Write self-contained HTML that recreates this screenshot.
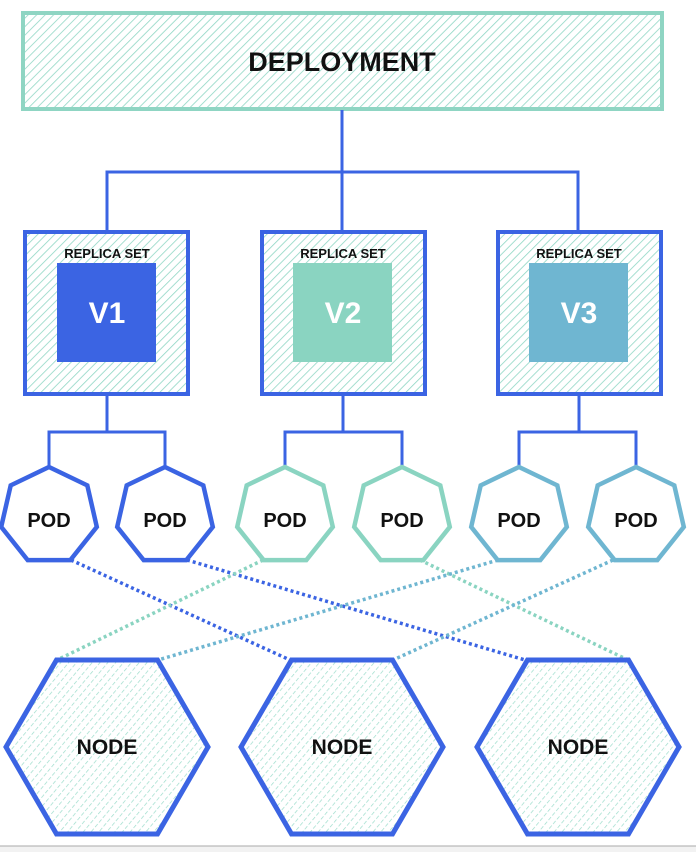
<!DOCTYPE html>
<html><head><meta charset="utf-8"><style>
html,body{margin:0;padding:0;background:#fff;}
svg{display:block;font-family:"Liberation Sans",sans-serif;}
</style></head><body>
<svg width="696" height="852" viewBox="0 0 696 852" xmlns="http://www.w3.org/2000/svg">
<defs>
<pattern id="h" width="6" height="6" patternUnits="userSpaceOnUse" patternTransform="rotate(45)">
<line x1="0" y1="0" x2="0" y2="6" stroke="#8fd6c4" stroke-width="1.6"/>
</pattern>
<pattern id="hd" width="6" height="6" patternUnits="userSpaceOnUse" patternTransform="rotate(40)">
<line x1="0" y1="0" x2="0" y2="6" stroke="#9bdccb" stroke-width="1.4" stroke-dasharray="3 2"/>
</pattern>
<polygon id="hep" points="0,-49 38.3,-30.6 47.8,10.9 21.3,44.1 -21.3,44.1 -47.8,10.9 -38.3,-30.6" fill="#fff" stroke-width="4.5" stroke-linejoin="miter"/>
<polygon id="hex" points="-50.5,-87 50.5,-87 101,0 50.5,87 -50.5,87 -101,0" fill="url(#hd)" stroke="#3b64e3" stroke-width="5"/>
</defs>
<rect x="0" y="846" width="696" height="6" fill="#f2f2f2"/>
<line x1="0" y1="846" x2="696" y2="846" stroke="#aaa" stroke-width="1"/>

<rect x="23" y="13" width="639" height="96" fill="url(#h)" stroke="#8fd5c3" stroke-width="4"/>
<text x="342" y="71" text-anchor="middle" font-size="27" font-weight="bold" fill="#111">DEPLOYMENT</text>

<g stroke="#3b64e3" stroke-width="3" fill="none">
<path d="M342 110V172M107 231V172H578V231M342 172V231"/>
<path d="M107 395V432M49 467V432H165V467"/>
<path d="M343 395V432M285 467V432H402V467"/>
<path d="M579 395V432M519 467V432H636V467"/>
</g>

<g stroke="#3b64e3" stroke-width="4">
<rect x="25" y="232" width="163" height="162" fill="url(#h)"/>
<rect x="262" y="232" width="163" height="162" fill="url(#h)"/>
<rect x="498" y="232" width="163" height="162" fill="url(#h)"/>
</g>
<rect x="57" y="263" width="99" height="99" fill="#3b64e3"/>
<rect x="293" y="263" width="99" height="99" fill="#8ad4c1"/>
<rect x="529" y="263" width="99" height="99" fill="#6fb6d1"/>
<g font-size="13" fill="#111" text-anchor="middle" font-weight="bold">
<text x="107" y="258">REPLICA SET</text>
<text x="343" y="258">REPLICA SET</text>
<text x="579" y="258">REPLICA SET</text>
</g>
<g font-size="30" font-weight="bold" fill="#fff" text-anchor="middle">
<text x="107" y="323">V1</text>
<text x="343" y="323">V2</text>
<text x="579" y="323">V3</text>
</g>

<g stroke-width="3.5" stroke-dasharray="3 3" fill="none">
<line x1="71" y1="560" x2="290" y2="660" stroke="#3b64e3"/>
<line x1="187" y1="560" x2="525" y2="660" stroke="#3b64e3"/>
<line x1="263" y1="560" x2="57" y2="660" stroke="#8ad4c1"/>
<line x1="420" y1="560" x2="628" y2="660" stroke="#8ad4c1"/>
<line x1="498" y1="560" x2="158" y2="660" stroke="#6fb6d1"/>
<line x1="613" y1="560" x2="393" y2="660" stroke="#6fb6d1"/>
</g>

<use href="#hep" x="49" y="516" stroke="#3b64e3"/>
<use href="#hep" x="165" y="516" stroke="#3b64e3"/>
<use href="#hep" x="285" y="516" stroke="#8ad4c1"/>
<use href="#hep" x="402" y="516" stroke="#8ad4c1"/>
<use href="#hep" x="519" y="516" stroke="#6fb6d1"/>
<use href="#hep" x="636" y="516" stroke="#6fb6d1"/>
<g font-size="20" fill="#111" text-anchor="middle" font-weight="bold">
<text x="49" y="527">POD</text>
<text x="165" y="527">POD</text>
<text x="285" y="527">POD</text>
<text x="402" y="527">POD</text>
<text x="519" y="527">POD</text>
<text x="636" y="527">POD</text>
</g>

<use href="#hex" x="107" y="747"/>
<use href="#hex" x="342" y="747"/>
<use href="#hex" x="578" y="747"/>
<g font-size="21" fill="#111" text-anchor="middle" font-weight="bold">
<text x="107" y="754">NODE</text>
<text x="342" y="754">NODE</text>
<text x="578" y="754">NODE</text>
</g>
</svg>
</body></html>
